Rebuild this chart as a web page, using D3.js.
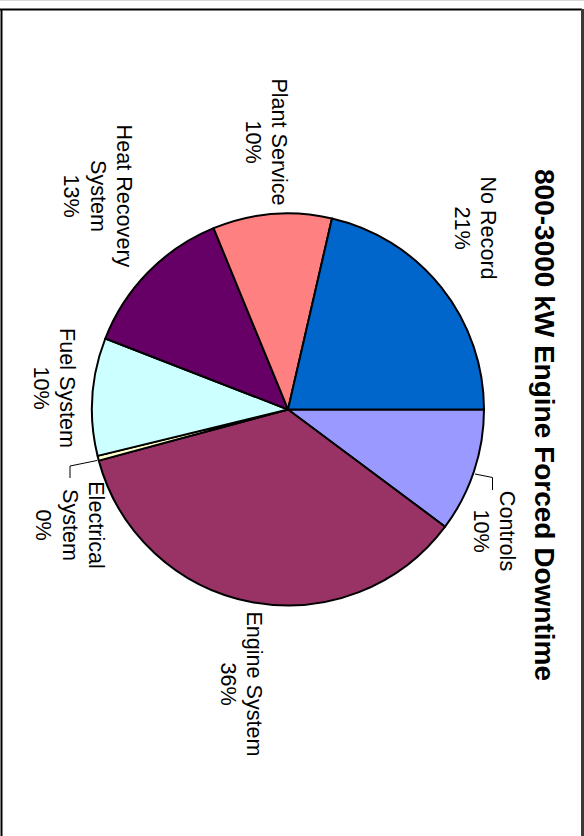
<!DOCTYPE html>
<html>
<head>
<meta charset="utf-8">
<script src="https://cdn.jsdelivr.net/npm/d3@7"></script>
<style>
  html, body { margin: 0; padding: 0; background: #fff; }
  svg { display: block; }
</style>
</head>
<body>
<svg id="chart" width="584" height="836"></svg>
<script>
// Forced downtime causes, share of hours (%), in pie order starting at 12 o'clock
const categories = ["Controls", "Engine System", "Electrical System", "Fuel System",
                    "Heat Recovery System", "Plant Service", "No Record"];
const shares = [10.2, 35.6, 0.4, 9.7, 12.9, 9.8, 21.4];
const sliceColors = ["#9999FF", "#993366", "#FFFFCC", "#CCFFFF", "#660066", "#FF8080", "#0066CC"];
// How each category name wraps onto lines
const nameLines = [["Controls"], ["Engine System"], ["Electrical", "System"], ["Fuel System"],
                   ["Heat Recovery", "System"], ["Plant Service"], ["No Record"]];
const titleText = "800-3000 kW Engine Forced Downtime";

// Layout in the chart's own (unrotated) frame: 836 wide, 584 tall
const cx = 409.5, cy = 296, R = 196;
const lineGap = 26.5;
// label anchor: centre x, baseline of first line
const labelAnchor = [
  { x: 531, y: 84 },
  { x: 684, y: 337 },
  { x: 525, y: 495 },
  { x: 388, y: 524 },
  { x: 196, y: 467 },
  { x: 142, y: 312 },
  { x: 228, y: 103 }
];
// leader lines for the labels that sit away from their slice
const leaders = {
  0: [[474, 109], [477.5, 91.5], [490, 91.5]],
  2: [[460.5, 487], [466, 514], [478, 514]]
};

const svg = d3.select("#chart");

// page frame
svg.append("line").attr("x1", 0).attr("x2", 584).attr("y1", 0.5).attr("y2", 0.5)
  .attr("stroke", "#d8d8d8").attr("stroke-width", 1);
svg.append("line").attr("x1", 0).attr("x2", 582).attr("y1", 9.5).attr("y2", 9.5)
  .attr("stroke", "#000").attr("stroke-width", 2);
svg.append("line").attr("x1", 1.5).attr("x2", 1.5).attr("y1", 9).attr("y2", 836)
  .attr("stroke", "#000").attr("stroke-width", 2);
svg.append("line").attr("x1", 582.5).attr("x2", 582.5).attr("y1", 9).attr("y2", 836)
  .attr("stroke", "#3a3a3a").attr("stroke-width", 3);

// the chart is laid out landscape and turned a quarter turn clockwise
const g = svg.append("g").attr("transform", `translate(${584},0) rotate(90)`);

const total = d3.sum(shares);
const pie = d3.pie().sort(null).value(d => d);
const arc = d3.arc().innerRadius(0).outerRadius(R);
const color = d3.scaleOrdinal().domain(categories).range(sliceColors);

const slices = pie(shares);
g.append("g").attr("transform", `translate(${cx},${cy})`)
  .selectAll("path")
  .data(slices)
  .join("path")
  .attr("d", arc)
  .attr("fill", (d, i) => color(categories[i]))
  .attr("stroke", "#000")
  .attr("stroke-width", 2)
  .attr("stroke-linejoin", "round");

// leader lines
Object.entries(leaders).forEach(([i, pts]) => {
  g.append("path")
    .attr("d", d3.line()(pts))
    .attr("fill", "none")
    .attr("stroke", "#000")
    .attr("stroke-width", 1);
});

// slice labels: name lines followed by the rounded percentage
const font = "'Liberation Sans', Arial, Helvetica, sans-serif";
slices.forEach((s, i) => {
  const pct = Math.round(s.value / total * 100) + "%";
  const lines = nameLines[i].concat([pct]);
  const t = g.append("text")
    .attr("text-anchor", "middle")
    .attr("font-family", font)
    .attr("font-size", 21.6)
    .attr("fill", "#000");
  lines.forEach((ln, k) => {
    t.append("tspan")
      .attr("x", labelAnchor[i].x)
      .attr("y", labelAnchor[i].y + k * lineGap)
      .text(ln);
  });
});

// title
g.append("text")
  .attr("x", 425)
  .attr("y", 49)
  .attr("text-anchor", "middle")
  .attr("font-family", font)
  .attr("font-weight", "bold")
  .attr("font-size", 28)
  .attr("fill", "#000")
  .text(titleText);
</script>
</body>
</html>
